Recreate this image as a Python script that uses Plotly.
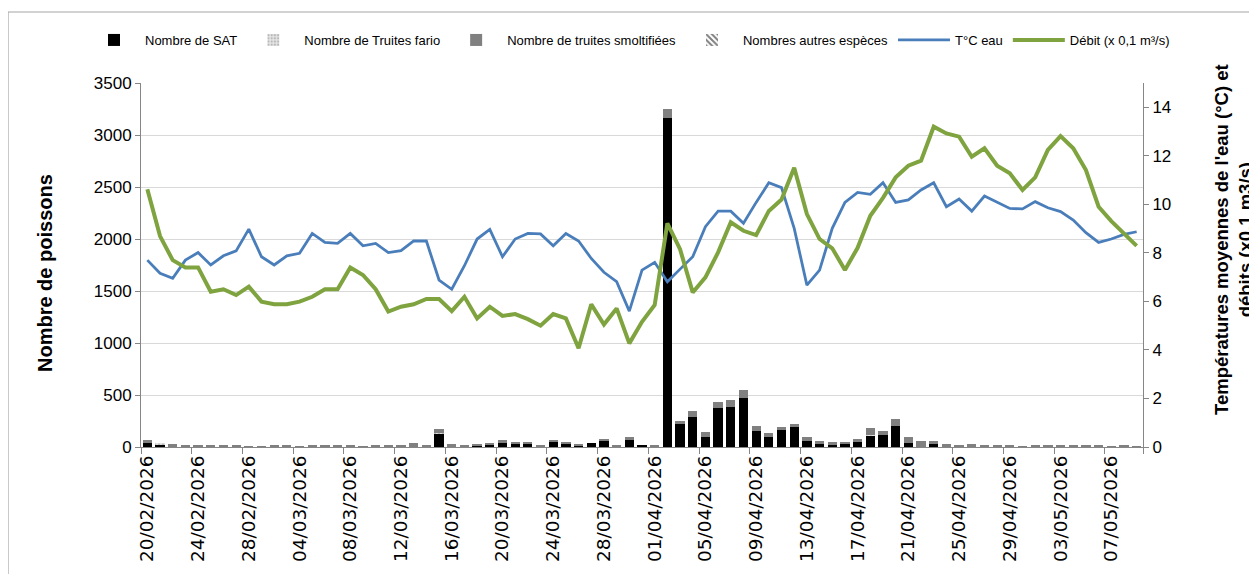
import pandas as pd
import plotly.graph_objects as go

# ---- data ----
dates = pd.date_range("2026-02-20", "2026-05-09", freq="D")
date_labels = [d.strftime("%d/%m/%Y") for d in dates]

sat = [42, 20, 0, 0, 0, 0, 0, 0, 0, 0, 0, 0, 0, 0, 0, 0, 0, 0, 0, 0, 0, 0, 0, 127, 0,
       0, 10, 15, 42, 32, 32, 0, 48, 35, 15, 39, 58, 0, 71, 10, 0, 3160, 221, 286, 94, 373, 383, 474, 156, 97,
       159, 188, 62, 26, 23, 26, 45, 107, 114, 198, 36, 0, 26, 0, 0, 0, 0, 0, 0, 0, 0, 0, 0, 0, 0, 0, 0, 0, 0]
fario = [0, 20, 0, 0, 0, 0, 0, 0, 0, 0, 0, 0, 0, 0, 0, 0, 0, 0, 0, 0, 0, 0, 0, 5, 0,
         0, 0, 0, 0, 0, 0, 0, 0, 0, 0, 0, 0, 0, 0, 0, 0, 0, 0, 0, 0, 0, 0, 0, 0, 0,
         0, 0, 0, 0, 0, 0, 0, 5, 0, 0, 0, 0, 0, 0, 0, 0, 0, 0, 0, 0, 0, 0, 0, 0, 0, 0, 0, 0, 0]
smolt = [26, 0, 30, 20, 10, 15, 15, 15, 7, 7, 10, 10, 7, 10, 10, 20, 20, 7, 20, 20, 20, 35, 20, 40, 25,
         20, 20, 25, 26, 16, 20, 15, 20, 16, 13, 0, 20, 20, 23, 0, 10, 90, 32, 58, 49, 62, 68, 78, 49, 36,
         32, 32, 32, 29, 26, 23, 32, 68, 42, 71, 62, 55, 36, 29, 16, 26, 16, 13, 16, 7, 13, 16, 16, 16, 16, 13, 7, 13, 7]
autres = [0] * 79

temp = [7.70, 7.16, 6.95, 7.70, 8.01, 7.50, 7.88, 8.08, 8.98, 7.84, 7.50, 7.88, 7.98, 8.80, 8.43, 8.39, 8.80, 8.29,
        8.39, 8.01, 8.09, 8.49, 8.49, 6.88, 6.50,
        7.47, 8.57, 8.97, 7.84, 8.57, 8.80, 8.78, 8.29, 8.80, 8.49, 7.77, 7.20, 6.81, 5.60, 7.29, 7.61, 6.81, 7.33,
        7.84, 9.08, 9.72, 9.72, 9.22, 10.08, 10.89,
        10.69, 9.01, 6.67, 7.29, 9.01, 10.08, 10.49, 10.41, 10.89, 10.08, 10.18, 10.59, 10.89, 9.90, 10.22, 9.72,
        10.34, 10.08, 9.83, 9.81, 10.11, 9.86, 9.70, 9.35, 8.83, 8.43, 8.57, 8.76, 8.87]
debit = [10.62, 8.69, 7.70, 7.40, 7.40, 6.40, 6.50, 6.26, 6.61, 5.99, 5.88, 5.88, 5.99, 6.19, 6.50, 6.50, 7.40,
         7.09, 6.50, 5.58, 5.78, 5.88, 6.10, 6.10, 5.60,
         6.19, 5.30, 5.78, 5.40, 5.48, 5.27, 5.00, 5.48, 5.30, 4.07, 5.88, 5.05, 5.71, 4.27, 5.16, 5.85, 9.22, 8.15,
         6.37, 6.99, 8.02, 9.26, 8.91, 8.73, 9.73,
         10.20, 11.51, 9.60, 8.57, 8.19, 7.29, 8.21, 9.53, 10.27, 11.11, 11.59, 11.80, 13.20, 12.92, 12.79, 11.96,
         12.31, 11.59, 11.28, 10.59, 11.11, 12.24, 12.81, 12.31, 11.41, 9.90, 9.31, 8.80, 8.29]

left_ticks = [0, 500, 1000, 1500, 2000, 2500, 3000, 3500]
right_ticks = [0, 2, 4, 6, 8, 10, 12, 14]

# ---- figure ----
x = list(range(len(dates)))
label_idx = x[::4]

fig = go.Figure()
bw = 0.73
fig.add_trace(go.Bar(x=x, y=sat, name="Nombre de SAT", width=bw,
                     marker=dict(color="#000000", line=dict(width=0))))
fig.add_trace(go.Bar(x=x, y=fario, name="Nombre de Truites fario", width=bw,
                     marker=dict(color="#FFFFFF", line=dict(width=0),
                                 pattern=dict(shape=".", fgcolor="#8C8C8C", bgcolor="#E6E6E6", size=4, solidity=0.4))))
fig.add_trace(go.Bar(x=x, y=smolt, name="Nombre de truites smoltifiées", width=bw,
                     marker=dict(color="#808080", line=dict(width=0))))
fig.add_trace(go.Bar(x=x, y=autres, name="Nombres autres espèces", width=bw,
                     marker=dict(color="#FFFFFF", line=dict(width=0),
                                 pattern=dict(shape="\\", fgcolor="#000000", bgcolor="#FFFFFF", size=5, solidity=0.5))))
fig.add_trace(go.Scatter(x=x, y=temp, name="T°C eau", mode="lines", yaxis="y2",
                         line=dict(color="#4A7EBB", width=2.8)))
fig.add_trace(go.Scatter(x=x, y=debit, name="Débit (x 0,1 m³/s)", mode="lines", yaxis="y2",
                         line=dict(color="#7EA33F", width=4)))

# the page body adds an 8 px offset: the figure is sized and placed to compensate
OFF = 8
W, H = 1257 - OFF, 574 - OFF
axis_grey = "#868686"
L, R, T, B = 141 - OFF, 1143 - OFF, 83 - OFF, 447 - OFF
pw, ph = R - L, B - T


def px(v):  # screen x -> paper x
    return (v - OFF - L) / pw


def py(v):  # screen y -> paper y
    return (B - (v - OFF)) / ph


fig.update_layout(
    width=W, height=H,
    margin=dict(l=L, r=W - R, t=T, b=H - B, pad=0, autoexpand=False),
    paper_bgcolor="white", plot_bgcolor="white",
    barmode="stack", bargap=0,
    font=dict(family="Liberation Sans, Arial, sans-serif", color="#000000"),
    xaxis=dict(
        range=[-0.5, len(dates) - 0.5], automargin=False,
        tickmode="array", tickvals=label_idx, ticktext=[date_labels[i] for i in label_idx],
        tickangle=-90, ticks="", showgrid=False, zeroline=False,
        showline=True, linecolor=axis_grey, linewidth=1,
        tickfont=dict(family="DejaVu Sans", size=18.5, color="#000000"),
        minor=dict(tickmode="array", tickvals=[i - 0.5 for i in label_idx] + [len(dates) - 0.5],
                   ticks="outside", ticklen=6, tickcolor=axis_grey, tickwidth=1, showgrid=False),
    ),
    yaxis=dict(
        range=[0, 3500], tickmode="array", tickvals=left_ticks, automargin=False,
        ticks="outside", ticklen=5, tickcolor=axis_grey,
        showline=True, linecolor=axis_grey, linewidth=1,
        showgrid=True, gridcolor="#D9D9D9", gridwidth=1, zeroline=False,
        tickfont=dict(family="Liberation Sans", size=17, color="#000000"),
    ),
    yaxis2=dict(
        range=[0, 15], overlaying="y", side="right", tickmode="array", tickvals=right_ticks,
        automargin=False,
        ticks="outside", ticklen=5, tickcolor=axis_grey,
        showline=True, linecolor=axis_grey, linewidth=1,
        showgrid=False, zeroline=False,
        tickfont=dict(family="Liberation Sans", size=17, color="#000000"),
    ),
    legend=dict(orientation="h", x=px(83), xanchor="left", y=py(40), yanchor="middle",
                itemwidth=52,
                traceorder="normal", font=dict(family="Liberation Sans", size=13, color="#000000"),
                bgcolor="rgba(0,0,0,0)"),
    showlegend=True,
)

fig.add_annotation(text="Nombre de poissons", xref="paper", yref="paper",
                   x=px(45), y=py(273), textangle=-90, showarrow=False,
                   xanchor="center", yanchor="middle",
                   font=dict(family="Liberation Sans", size=20, color="#000000", weight="bold"))
fig.add_annotation(text="Températures moyennes de l'eau (°C) et<br>débits (x0,1 m3/s)",
                   xref="paper", yref="paper", x=px(1233), y=py(240), textangle=-90, showarrow=False,
                   xanchor="center", yanchor="middle",
                   font=dict(family="Liberation Sans", size=18.5, color="#000000", weight="bold"))

# outer chart-area border (partly outside the window, as in the reference)
fig.add_shape(type="rect", xref="paper", yref="paper",
              x0=px(8), y0=py(620), x1=px(1300), y1=py(12),
              line=dict(color="#A6A6A6", width=1.2), fillcolor="rgba(0,0,0,0)", layer="below")

fig.write_html("out.html")
